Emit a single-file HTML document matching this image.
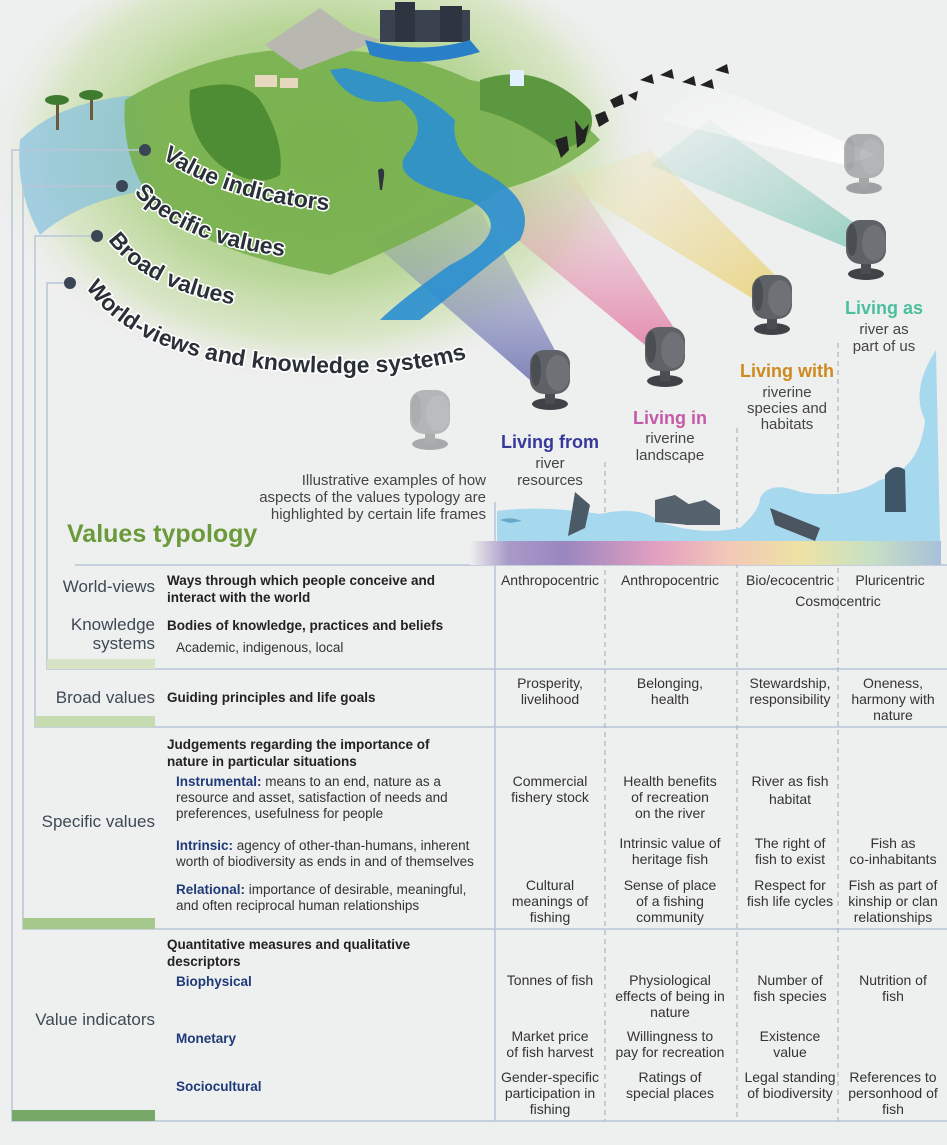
<!DOCTYPE html>
<html><head><meta charset="utf-8"><style>
html,body{margin:0;padding:0;background:#eeefef}
svg{display:block}
text{font-family:"Liberation Sans",sans-serif}
.c{font-size:14px;fill:#333;text-anchor:middle}
.lab{font-size:17px;fill:#3d4a55;text-anchor:end}
.b{font-size:13.5px;font-weight:bold;fill:#222}
.d{font-size:13.5px;fill:#333}
.s{font-size:13.5px;font-weight:bold;fill:#1f3a78}
.arc{font-size:23px;font-weight:bold;fill:#2a3038;stroke:#fff;stroke-width:3;paint-order:stroke}
.lf{font-family:"Liberation Sans Narrow","Liberation Sans",sans-serif;text-anchor:middle;font-size:15px;fill:#444}
.lh{font-family:"Liberation Sans Narrow","Liberation Sans",sans-serif;text-anchor:middle;font-size:18px;font-weight:bold}
</style></head><body>
<svg width="947" height="1145" viewBox="0 0 947 1145" xmlns="http://www.w3.org/2000/svg">
<defs>
<radialGradient id="halo" cx="0.5" cy="0.45" r="0.5">
<stop offset="0" stop-color="#7fb94f" stop-opacity="0.9"/>
<stop offset="0.55" stop-color="#a9cf7e" stop-opacity="0.75"/>
<stop offset="0.8" stop-color="#c9dfa8" stop-opacity="0.55"/>
<stop offset="1" stop-color="#eeefef" stop-opacity="0"/>
</radialGradient>
<linearGradient id="spec" x1="0" x2="1">
<stop offset="0" stop-color="#eeefef"/>
<stop offset="0.08" stop-color="#a99bc9"/>
<stop offset="0.2" stop-color="#9a86c0"/>
<stop offset="0.4" stop-color="#e4a0c0"/>
<stop offset="0.55" stop-color="#f2c8b8"/>
<stop offset="0.7" stop-color="#eee2a4"/>
<stop offset="0.85" stop-color="#c8e0c4"/>
<stop offset="1" stop-color="#a8c0d8"/>
</linearGradient>
<linearGradient id="b1" x1="0" y1="1" x2="0" y2="0"><stop offset="0" stop-color="#5c62a8" stop-opacity="0.75"/><stop offset="1" stop-color="#7a80c0" stop-opacity="0.05"/></linearGradient>
<linearGradient id="b2" x1="0" y1="1" x2="0" y2="0"><stop offset="0" stop-color="#e0709a" stop-opacity="0.75"/><stop offset="1" stop-color="#e890b0" stop-opacity="0.05"/></linearGradient>
<linearGradient id="b3" x1="1" y1="1" x2="0" y2="0"><stop offset="0" stop-color="#e8cc60" stop-opacity="0.75"/><stop offset="1" stop-color="#f0dc90" stop-opacity="0.05"/></linearGradient>
<linearGradient id="b4" x1="1" y1="1" x2="0" y2="0"><stop offset="0" stop-color="#70c0aa" stop-opacity="0.7"/><stop offset="1" stop-color="#90d0c0" stop-opacity="0.05"/></linearGradient>
<linearGradient id="b5" x1="1" y1="1" x2="0" y2="0"><stop offset="0" stop-color="#ffffff" stop-opacity="0.9"/><stop offset="1" stop-color="#ffffff" stop-opacity="0"/></linearGradient>
<path id="p1" d="M162,158 Q230,205 352,212"/>
<path id="p2" d="M134,193 Q185,248 302,258"/>
<path id="p3" d="M108,240 Q148,295 258,308"/>
<path id="p4" d="M86,287 Q135,362 300,372 Q420,378 485,352"/>
<g id="spot">
<ellipse cx="0" cy="26" rx="18" ry="6" fill="#3f4247"/>
<rect x="-5" y="12" width="10" height="14" fill="#4a4d52"/>
<rect x="-20" y="-28" width="40" height="44" rx="14" fill="#5e6166"/>
<ellipse cx="8" cy="-5" rx="12" ry="18" fill="#6e7176"/>
<ellipse cx="-14" cy="-8" rx="5" ry="16" fill="#4a4d52"/>
</g>
</defs>

<ellipse cx="320" cy="175" rx="340" ry="235" fill="url(#halo)"/>
<polygon points="530,380 568,375 470,190 370,240" fill="url(#b1)"/>
<polygon points="645,345 682,340 570,170 470,200" fill="url(#b2)"/>
<polygon points="755,300 790,290 650,150 560,180" fill="url(#b3)"/>
<polygon points="848,248 878,240 710,120 650,165" fill="url(#b4)"/>
<polygon points="845,165 875,155 700,80 660,120" fill="url(#b5)"/>
<path d="M20,140 Q60,100 140,95 L150,190 Q80,200 40,235 Q15,190 20,140Z" fill="#86c0e0" opacity="0.7"/>
<path d="M125,100 Q200,55 280,50 Q400,45 470,80 Q560,95 600,140 Q560,175 500,190 Q430,235 330,275 Q220,255 165,215 Q120,170 125,100Z" fill="#78b04e" opacity="0.9"/>
<polygon points="265,45 320,8 350,30 380,40 300,70" fill="#b8b8b0"/>
<rect x="380" y="10" width="90" height="32" fill="#3a4250"/>
<rect x="395" y="2" width="20" height="40" fill="#2e3440"/>
<rect x="440" y="6" width="22" height="36" fill="#2e3440"/>
<path d="M365,40 Q420,55 470,40 L480,52 Q420,70 370,55Z" fill="#2a80c8"/>
<path d="M330,70 Q350,110 400,100 Q430,120 410,150 Q380,180 470,200 Q520,230 450,265 Q400,300 380,320 L420,320 Q470,280 520,240 Q540,200 480,170 Q450,150 455,120 Q420,85 345,68Z" fill="#2a8fd0" opacity="0.9"/>
<path d="M190,90 Q240,75 260,100 Q285,140 280,175 Q255,190 220,165 Q185,135 190,90Z" fill="#4f8d35"/>
<path d="M480,80 Q540,60 590,110 Q600,140 560,150 Q520,120 480,110Z" fill="#5c9840"/>
<rect x="255" y="75" width="22" height="12" fill="#e8d8c0"/><rect x="280" y="78" width="18" height="10" fill="#e8d8c0"/>
<rect x="510" y="70" width="14" height="16" fill="#e0f0ff"/>
<rect x="56" y="100" width="3" height="30" fill="#6a5a3a"/><ellipse cx="57" cy="100" rx="12" ry="5" fill="#3e7a30"/>
<rect x="90" y="95" width="3" height="25" fill="#6a5a3a"/><ellipse cx="91" cy="95" rx="12" ry="5" fill="#3e7a30"/>
<g fill="#222"><path d="M575,120 l8,10 l6,-6 l-4,18 l-8,6Z"/><path d="M595,115 l10,-4 l4,10 l-10,6Z"/><path d="M610,100 l12,-6 l2,10 l-10,4Z"/><path d="M628,95 l10,-4 l-2,10Z"/><path d="M640,80 l12,-6 l2,10Z"/><path d="M660,75 l12,-6 l2,10Z"/><path d="M682,82 l12,-6 l2,10Z"/><path d="M700,85 l12,-6 l2,10Z"/><path d="M715,70 l12,-6 l2,10Z"/><path d="M555,140 l12,-4 l2,14 l-8,8Z"/></g>
<path d="M378,170 Q385,165 384,176 L382,190 L380,190Z" fill="#2e3440"/>

<g opacity="0.4" transform="translate(430,418)"><use href="#spot"/></g>
<g transform="translate(550,378)"><use href="#spot"/></g>
<g transform="translate(665,355)"><use href="#spot"/></g>
<g transform="translate(772,303)"><use href="#spot"/></g>
<g transform="translate(866,248)"><use href="#spot"/></g>
<g opacity="0.45" transform="translate(864,162)"><use href="#spot"/></g>

<text class="arc"><textPath href="#p1">Value indicators</textPath></text>
<text class="arc"><textPath href="#p2">Specific values</textPath></text>
<text class="arc"><textPath href="#p3">Broad values</textPath></text>
<text class="arc"><textPath href="#p4">World-views and knowledge systems</textPath></text>

<g stroke="#b9c6d6" stroke-width="1.5" fill="none">
<path d="M145,150 H12 V1121 H947"/>
<path d="M122,186 H23 V929 H947"/>
<path d="M97,236 H35 V727 H947"/>
<path d="M70,283 H47 V669 H947"/>
<path d="M75,565 H947"/>
<path d="M495,502 V1121"/>
</g>
<g fill="#3a4654"><circle cx="145" cy="150" r="6"/><circle cx="122" cy="186" r="6"/><circle cx="97" cy="236" r="6"/><circle cx="70" cy="283" r="6"/></g>
<g stroke="#a9b6c6" stroke-width="1.2" stroke-dasharray="5,4">
<path d="M605,462 V1121"/><path d="M737,428 V1121"/><path d="M838,343 V1121"/>
</g>

<path d="M497,511 Q540,505 600,514 Q640,505 660,522 Q700,536 740,528 Q760,510 760,498 Q770,480 800,492 Q850,500 880,480 Q920,470 925,420 Q910,390 936,350 L940,541 L497,541Z" fill="#a6d8ee"/>
<path d="M575,492 L590,505 L585,528 L568,536Z" fill="#4a5a66"/>
<path d="M655,500 L675,495 L690,505 L690,525 L655,522Z" fill="#55616b"/>
<path d="M685,505 L705,500 L720,510 L720,525 L685,525Z" fill="#55616b"/>
<path d="M770,508 L820,528 L815,541 L775,525Z" fill="#4a5560"/>
<path d="M885,475 Q895,462 905,470 L906,512 L885,512Z" fill="#3e5668"/>
<path d="M500,520 Q510,516 522,521 L510,523Z" fill="#6aa8c8"/>
<rect x="470" y="541" width="471" height="24" fill="url(#spec)"/>

<rect x="47" y="659" width="108" height="10" fill="#d6e3c4"/>
<rect x="35" y="716" width="120" height="11" fill="#c6dcb0"/>
<rect x="23" y="918" width="132" height="11" fill="#a6c88c"/>
<rect x="12" y="1110" width="143" height="11" fill="#78a868"/>

<text class="lh" x="550" y="448" fill="#36399a">Living from</text>
<text class="lf" x="550" y="468">river</text><text class="lf" x="550" y="485">resources</text>
<text class="lh" x="670" y="424" fill="#c55aa6">Living in</text>
<text class="lf" x="670" y="443">riverine</text><text class="lf" x="670" y="460">landscape</text>
<text class="lh" x="787" y="377" fill="#cf8a1e">Living with</text>
<text class="lf" x="787" y="397">riverine</text><text class="lf" x="787" y="413">species and</text><text class="lf" x="787" y="429">habitats</text>
<text class="lh" x="884" y="314" fill="#4cbf9c">Living as</text>
<text class="lf" x="884" y="334">river as</text><text class="lf" x="884" y="351">part of us</text>
<text x="486" y="485" class="lf" style="text-anchor:end">Illustrative examples of how</text><text x="486" y="502" class="lf" style="text-anchor:end">aspects of the values typology are</text><text x="486" y="519" class="lf" style="text-anchor:end">highlighted by certain life frames</text>
<text x="67" y="542" font-size="25" font-weight="bold" fill="#6a9a3a" style="font-family:'Liberation Sans Narrow','Liberation Sans',sans-serif">Values typology</text>

<text class="lab" x="155" y="592">World-views</text>
<text class="lab" x="155" y="630">Knowledge</text><text class="lab" x="155" y="649">systems</text>
<text class="b" x="167" y="585">Ways through which people conceive and</text>
<text class="b" x="167" y="602">interact with the world</text>
<text class="b" x="167" y="630">Bodies of knowledge, practices and beliefs</text>
<text class="d" x="176" y="652">Academic, indigenous, local</text>
<text class="c" x="550" y="585">Anthropocentric</text><text class="c" x="670" y="585">Anthropocentric</text>
<text class="c" x="790" y="585">Bio/ecocentric</text><text class="c" x="890" y="585">Pluricentric</text>
<text class="c" x="838" y="606">Cosmocentric</text>

<text class="lab" x="155" y="703">Broad values</text>
<text class="b" x="167" y="702">Guiding principles and life goals</text>
<text class="c" x="550" y="688">Prosperity,</text><text class="c" x="550" y="704">livelihood</text>
<text class="c" x="670" y="688">Belonging,</text><text class="c" x="670" y="704">health</text>
<text class="c" x="790" y="688">Stewardship,</text><text class="c" x="790" y="704">responsibility</text>
<text class="c" x="893" y="688">Oneness,</text><text class="c" x="893" y="704">harmony with</text><text class="c" x="893" y="720">nature</text>

<text class="lab" x="155" y="827">Specific values</text>
<text class="b" x="167" y="749">Judgements regarding the importance of</text>
<text class="b" x="167" y="766">nature in particular situations</text>
<text class="d" x="176" y="786"><tspan class="s">Instrumental:</tspan> means to an end, nature as a</text>
<text class="d" x="176" y="802">resource and asset, satisfaction of needs and</text>
<text class="d" x="176" y="818">preferences, usefulness for people</text>
<text class="d" x="176" y="850"><tspan class="s">Intrinsic:</tspan> agency of other-than-humans, inherent</text>
<text class="d" x="176" y="866">worth of biodiversity as ends in and of themselves</text>
<text class="d" x="176" y="894"><tspan class="s">Relational:</tspan> importance of desirable, meaningful,</text>
<text class="d" x="176" y="910">and often reciprocal human relationships</text>
<text class="c" x="550" y="786">Commercial</text><text class="c" x="550" y="802">fishery stock</text>
<text class="c" x="670" y="786">Health benefits</text><text class="c" x="670" y="802">of recreation</text><text class="c" x="670" y="818">on the river</text>
<text class="c" x="790" y="786">River as fish</text><text class="c" x="790" y="804">habitat</text>
<text class="c" x="670" y="848">Intrinsic value of</text><text class="c" x="670" y="864">heritage fish</text>
<text class="c" x="790" y="848">The right of</text><text class="c" x="790" y="864">fish to exist</text>
<text class="c" x="893" y="848">Fish as</text><text class="c" x="893" y="864">co-inhabitants</text>
<text class="c" x="550" y="890">Cultural</text><text class="c" x="550" y="906">meanings of</text><text class="c" x="550" y="922">fishing</text>
<text class="c" x="670" y="890">Sense of place</text><text class="c" x="670" y="906">of a fishing</text><text class="c" x="670" y="922">community</text>
<text class="c" x="790" y="890">Respect for</text><text class="c" x="790" y="906">fish life cycles</text>
<text class="c" x="893" y="890">Fish as part of</text><text class="c" x="893" y="906">kinship or clan</text><text class="c" x="893" y="922">relationships</text>

<text class="lab" x="155" y="1025">Value indicators</text>
<text class="b" x="167" y="949">Quantitative measures and qualitative</text>
<text class="b" x="167" y="966">descriptors</text>
<text class="s" x="176" y="986">Biophysical</text>
<text class="s" x="176" y="1043">Monetary</text>
<text class="s" x="176" y="1091">Sociocultural</text>
<text class="c" x="550" y="985">Tonnes of fish</text>
<text class="c" x="670" y="985">Physiological</text><text class="c" x="670" y="1001">effects of being in</text><text class="c" x="670" y="1017">nature</text>
<text class="c" x="790" y="985">Number of</text><text class="c" x="790" y="1001">fish species</text>
<text class="c" x="893" y="985">Nutrition of</text><text class="c" x="893" y="1001">fish</text>
<text class="c" x="550" y="1041">Market price</text><text class="c" x="550" y="1057">of fish harvest</text>
<text class="c" x="670" y="1041">Willingness to</text><text class="c" x="670" y="1057">pay for recreation</text>
<text class="c" x="790" y="1041">Existence</text><text class="c" x="790" y="1057">value</text>
<text class="c" x="550" y="1082">Gender-specific</text><text class="c" x="550" y="1098">participation in</text><text class="c" x="550" y="1114">fishing</text>
<text class="c" x="670" y="1082">Ratings of</text><text class="c" x="670" y="1098">special places</text>
<text class="c" x="790" y="1082">Legal standing</text><text class="c" x="790" y="1098">of biodiversity</text>
<text class="c" x="893" y="1082">References to</text><text class="c" x="893" y="1098">personhood of</text><text class="c" x="893" y="1114">fish</text>
</svg>
</body></html>
